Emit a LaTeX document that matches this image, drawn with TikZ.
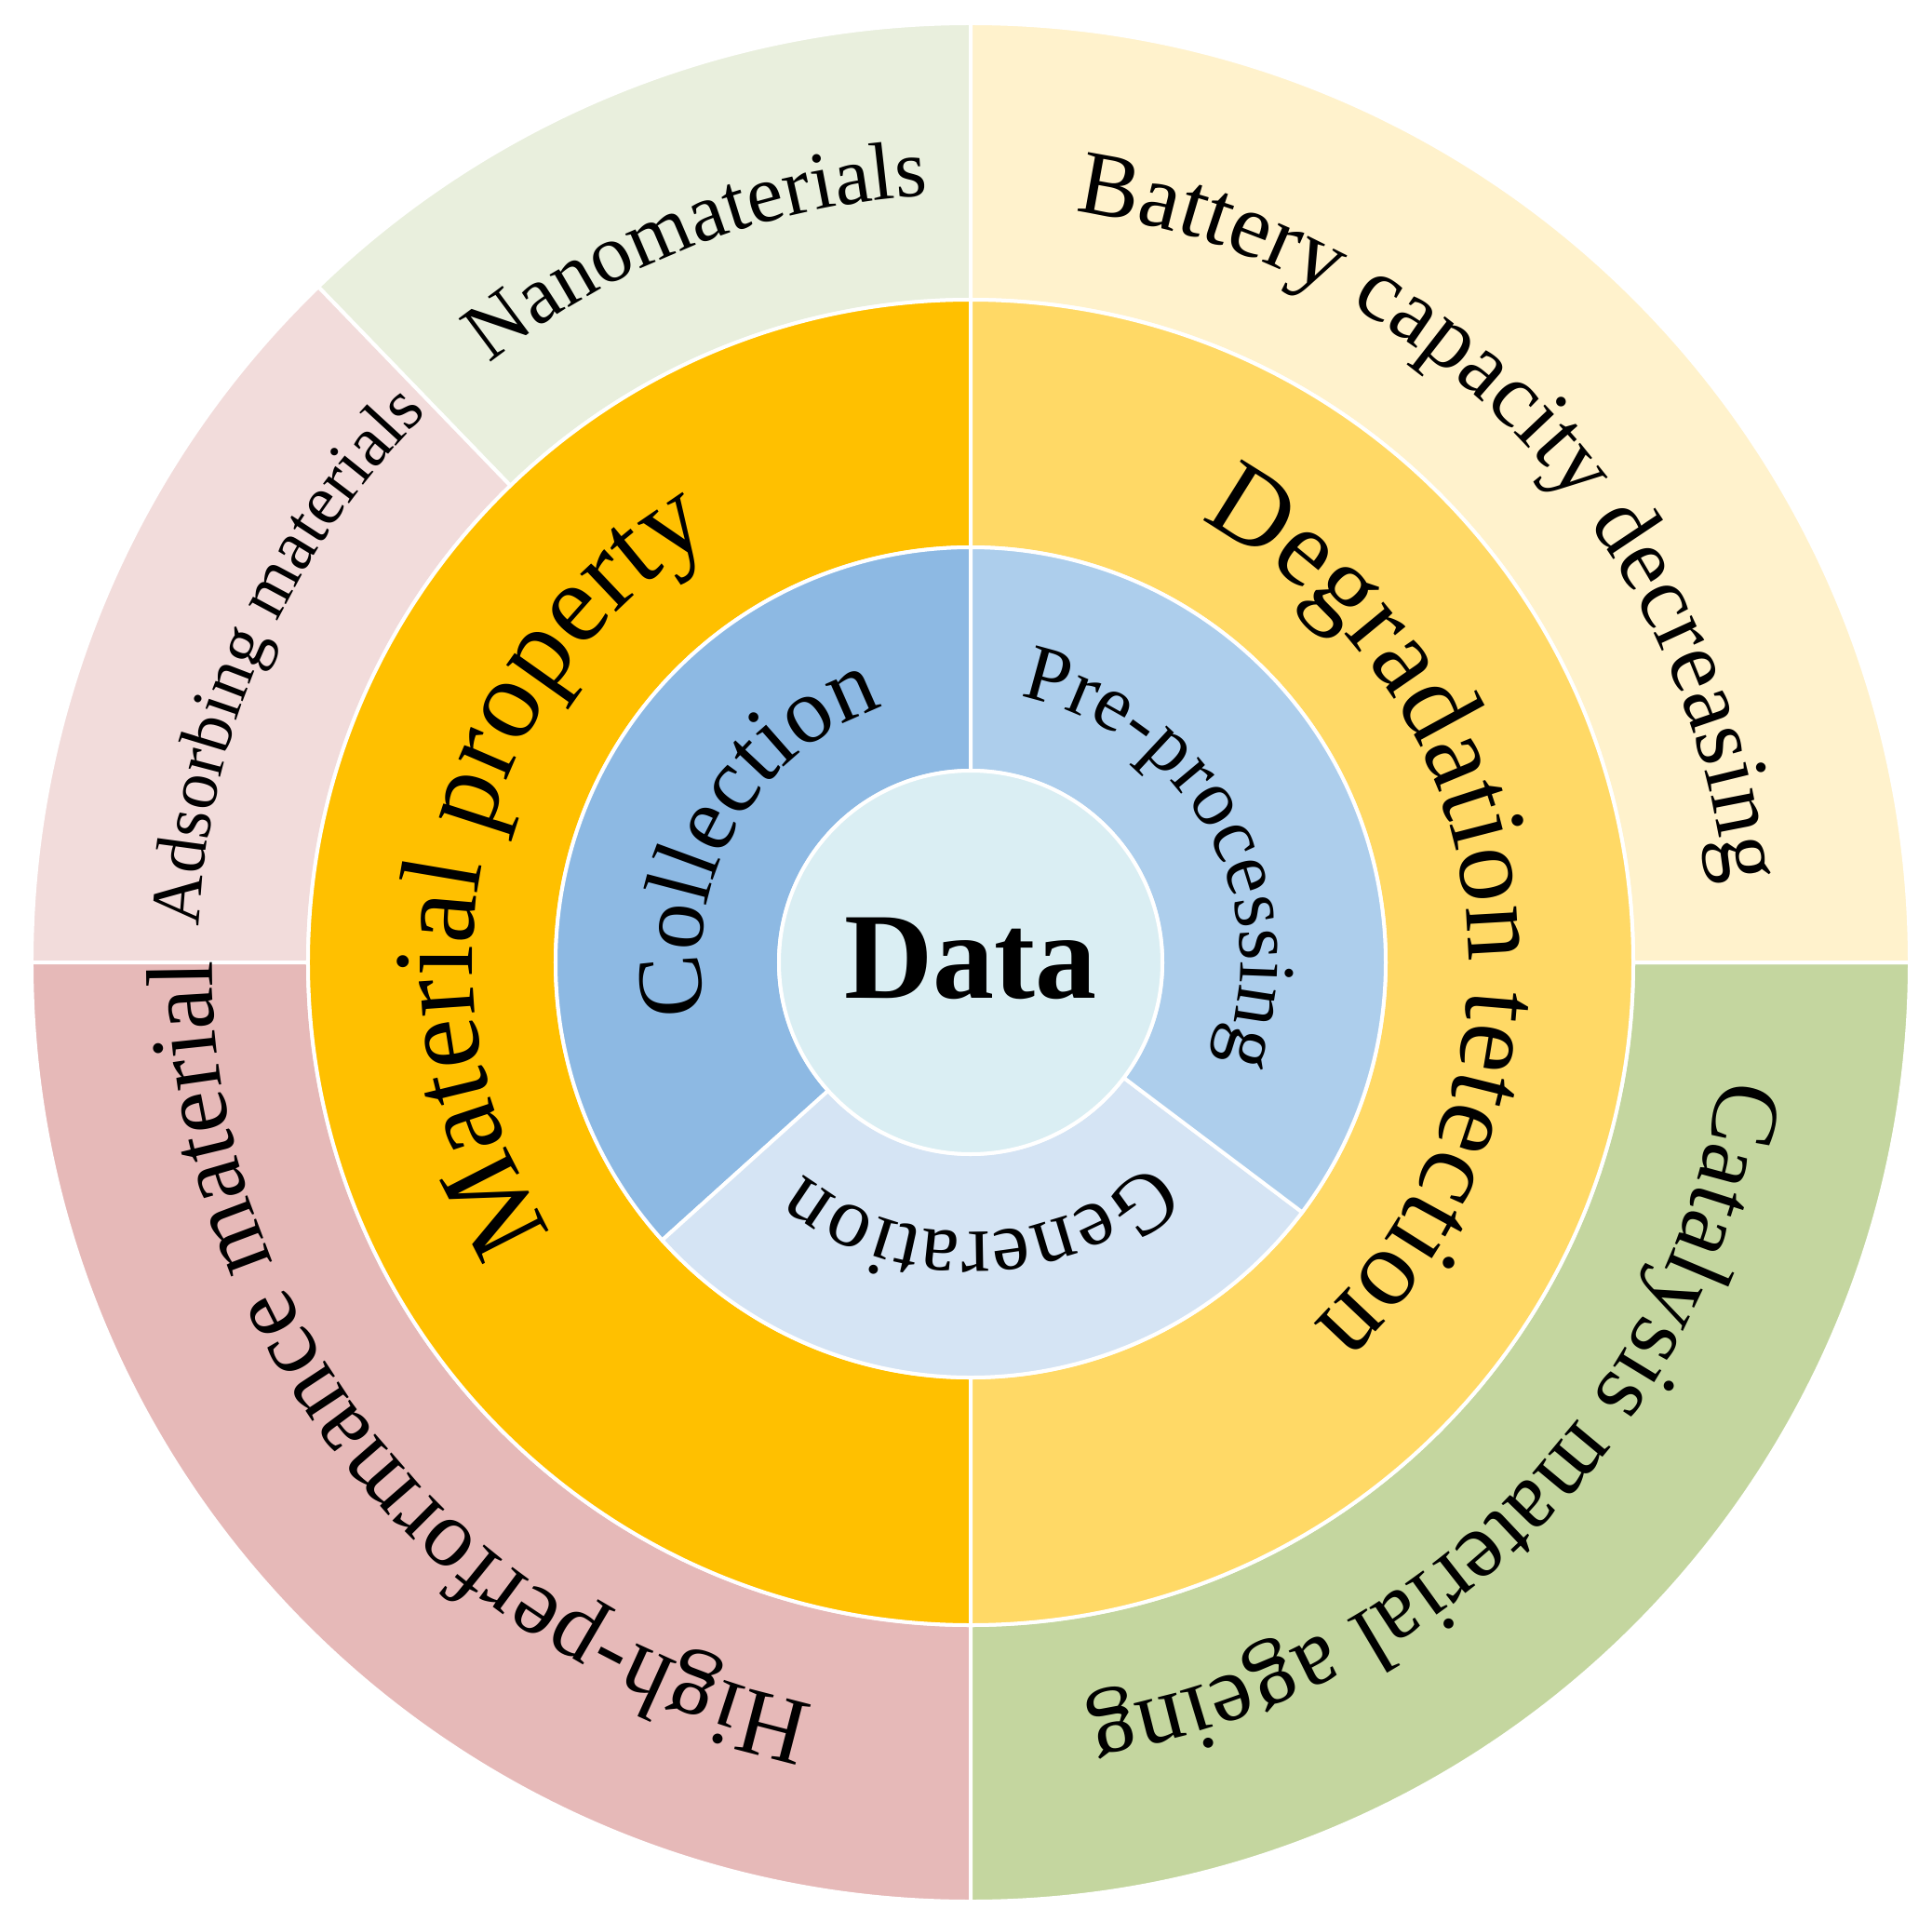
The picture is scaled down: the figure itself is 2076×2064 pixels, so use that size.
\documentclass[tikz,border=0pt]{standalone}
\usepackage{fontspec}
\setmainfont{Liberation Serif}
\usetikzlibrary{decorations.text}
\definecolor{cNano}{HTML}{E9EFDD}
\definecolor{cAds}{HTML}{F2DCDB}
\definecolor{cHigh}{HTML}{E6B9B8}
\definecolor{cCat}{HTML}{C4D69F}
\definecolor{cBat}{HTML}{FFF2CC}
\definecolor{cMat}{HTML}{FFC000}
\definecolor{cDeg}{HTML}{FFD966}
\definecolor{cCol}{HTML}{8DB9E3}
\definecolor{cPre}{HTML}{ADCEEC}
\definecolor{cGen}{HTML}{D5E4F4}
\definecolor{cData}{HTML}{DAEEF3}
\newcommand\sect[5]{\filldraw[fill=#1,draw=white,line width=4] (#2:#4) arc[start angle=#2,end angle=#3,radius=#4] -- (#3:#5) arc[start angle=#3,end angle=#2,radius=#5] -- cycle;}
\newcommand\arctext[4]{\path[decorate,decoration={text along path,text align=center,text={|\fontsize{#3}{#3}\selectfont|#4}}] ({#1+85}:#2) arc[start angle={#1+85},end angle={#1-85},radius=#2];}
\begin{document}
\begin{tikzpicture}[x=1pt,y=1pt]
\useasboundingbox (-1043,-1030) rectangle (1033,1034);
\fill[white] (-1043,-1030) rectangle (1033,1034);
% outer
\sect{cNano}{90}{134}{712}{1009}
\sect{cAds}{134}{180}{712}{1009}
\sect{cHigh}{180}{270}{712}{1009}
\sect{cCat}{270}{360}{712}{1009}
\sect{cBat}{0}{90}{712}{1009}
% middle
\sect{cMat}{90}{270}{446}{712}
\sect{cDeg}{-90}{90}{446}{712}
% inner
\sect{cCol}{90}{222}{206}{446}
\sect{cGen}{222}{323}{206}{446}
\sect{cPre}{-37}{90}{206}{446}
\filldraw[fill=cData,draw=white,line width=4] (0,0) circle[radius=206];
\node[font=\fontsize{132}{132}\selectfont\bfseries] (data) at (0,4) {Data};
% texts
\arctext{167}{535}{122}{Material property}
\arctext{8}{535}{118}{Degradation tetection}
\arctext{150}{290}{100}{Collection}
\arctext{29}{290}{86}{Pre-processing}
\arctext{272}{290}{92}{Generation}
\arctext{219}{815}{102}{High-performance material}
\arctext{-45}{815}{102}{Catalysis material ageing}
\arctext{44}{815}{98}{Battery capacity decreasing}
\arctext{111}{825}{88}{Nanomaterials}
\arctext{156}{830}{76}{Adsorbing materials}
\end{tikzpicture}
\end{document}
